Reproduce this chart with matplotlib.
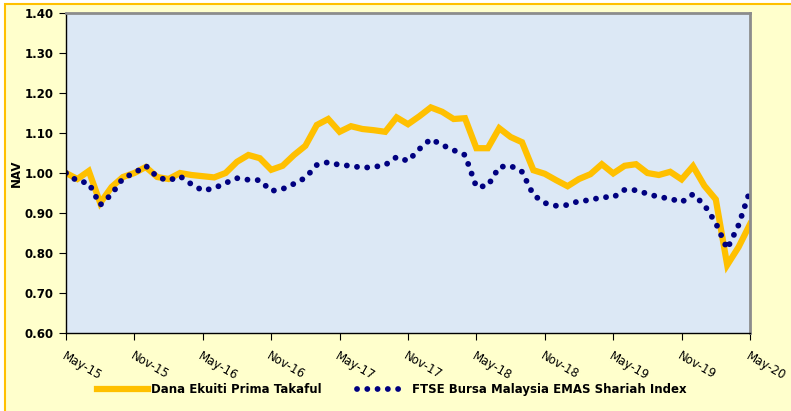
import numpy as np
import pandas as pd
import matplotlib
matplotlib.use('Agg')
import matplotlib.pyplot as plt
from matplotlib.patches import Rectangle

# monthly NAV, May-15 .. May-20
months = pd.date_range('2015-05-01', '2020-05-01', freq='MS')
takaful = [1.000, 0.985, 1.005, 0.925, 0.965, 0.990, 1.000, 1.015, 0.990, 0.985,
           1.000, 0.995, 0.992, 0.989, 1.000, 1.028, 1.045, 1.037, 1.008, 1.018,
           1.045, 1.068, 1.120, 1.135, 1.103, 1.117, 1.110, 1.107, 1.103, 1.139,
           1.122, 1.142, 1.164, 1.153, 1.135, 1.137, 1.062, 1.062, 1.112, 1.090,
           1.077, 1.007, 0.998, 0.982, 0.967, 0.985, 0.997, 1.022, 0.999, 1.018,
           1.022, 1.000, 0.995, 1.003, 0.984, 1.017, 0.968, 0.934, 0.770, 0.815,
           0.872]
ftse = [1.000, 0.980, 0.975, 0.920, 0.947, 0.987, 1.000, 1.018, 0.990, 0.981,
        0.992, 0.972, 0.956, 0.962, 0.975, 0.987, 0.983, 0.982, 0.955, 0.960,
        0.973, 0.988, 1.020, 1.027, 1.020, 1.018, 1.013, 1.015, 1.020, 1.040,
        1.030, 1.060, 1.085, 1.070, 1.057, 1.045, 0.965, 0.968, 1.015, 1.018,
        1.003, 0.945, 0.925, 0.918, 0.920, 0.930, 0.932, 0.940, 0.939, 0.958,
        0.957, 0.948, 0.940, 0.936, 0.927, 0.947, 0.920, 0.875, 0.810, 0.870,
        0.956]
tick_labels = ['May-15', 'Nov-15', 'May-16', 'Nov-16', 'May-17', 'Nov-17',
               'May-18', 'Nov-18', 'May-19', 'Nov-19', 'May-20']
yticks = [0.60, 0.70, 0.80, 0.90, 1.00, 1.10, 1.20, 1.30, 1.40]

x = np.arange(len(months))

fig = plt.figure(figsize=(7.91, 4.11), dpi=100, facecolor='white')
# chart background box with orange edge
fig.patches.append(Rectangle((5/791, -0.01), 1.0, 1 - 4/411 + 0.01, transform=fig.transFigure,
                             facecolor='#FFFFCC', edgecolor='#FFC000', lw=1.5, zorder=-10))
ax = fig.add_axes([66/791, 1 - 333/411, 684/791, 320/411])
ax.set_zorder(5)
ax.set_facecolor('#DCE8F5')

ax.plot(x, takaful, color='#FFC000', lw=4.5, solid_joinstyle='miter',
        label='Dana Ekuiti Prima Takaful')
ax.plot(x, ftse, color='#000080', lw=4.2, linestyle=(0, (0.01, 1.75)),
        dash_capstyle='round', label='FTSE Bursa Malaysia EMAS Shariah Index')

ax.set_xlim(0, len(months) - 1)
ax.set_ylim(0.6, 1.4)
ax.set_yticks(yticks)
ax.set_yticklabels(['%.2f' % v for v in yticks], fontsize=8.5, fontweight='bold')
ax.set_xticks(x[::6])
ax.set_xticklabels(tick_labels, rotation=-30, rotation_mode='anchor', ha='left',
                   va='top', fontsize=8.5)
ax.tick_params(axis='x', length=5, pad=7)
ax.tick_params(axis='y', length=5, pad=4)

for s in ['top', 'right']:
    ax.spines[s].set_color('#8C8C8C')
    ax.spines[s].set_linewidth(2)
for s in ['left', 'bottom']:
    ax.spines[s].set_color('black')
    ax.spines[s].set_linewidth(1)

ax.set_ylabel('NAV', fontsize=8.5, fontweight='bold')
ax.yaxis.set_label_coords(-0.063, 0.5)

fig.legend(loc='center', bbox_to_anchor=(0.495, 0.052), ncol=2, frameon=False,
           handlelength=4.3, columnspacing=3.0, handletextpad=0.3,
           prop={'size': 8.5, 'weight': 'bold'})

fig.savefig('out.png', dpi=100, facecolor=fig.get_facecolor())
